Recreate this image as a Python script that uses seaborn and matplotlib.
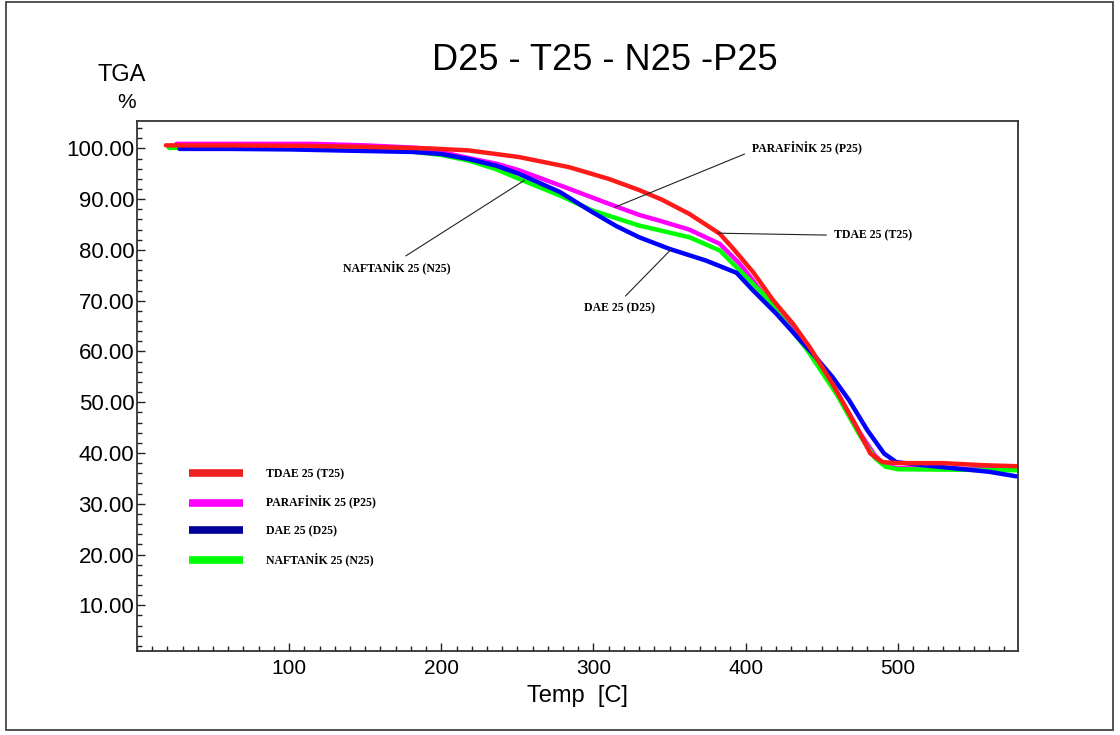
import numpy as np
import pandas as pd
import seaborn as sns
import matplotlib.pyplot as plt
from matplotlib.lines import Line2D
from matplotlib.patches import Rectangle
from matplotlib.ticker import MultipleLocator, FormatStrFormatter

# TGA curves (temperature in C, weight %)
t_tdae = [19, 60, 111, 150, 192, 218, 251, 284, 310, 330, 345, 363, 383, 392, 405,
          418, 431, 442, 457, 473, 482, 490, 501, 530, 556, 578]
w_tdae = [100.6, 100.6, 100.5, 100.3, 100.0, 99.6, 98.3, 96.3, 94.0, 91.8, 89.9, 87.1,
          83.2, 80.2, 75.6, 70.1, 65.5, 60.9, 53.7, 45.1, 39.9, 38.2, 38.0, 38.0, 37.6, 37.4]

t_paraf = [26, 60, 114, 150, 185, 200, 218, 236, 251, 280, 310, 330, 343, 363, 383,
           396, 403, 416, 437, 460, 475, 485, 492, 500, 540, 578]
w_paraf = [100.9, 100.9, 100.9, 100.6, 100.1, 99.3, 98.1, 97.0, 95.7, 92.5, 89.1, 86.9,
           85.8, 84.0, 81.2, 77.3, 74.7, 69.5, 62.2, 52.0, 44.0, 39.5, 37.5, 37.0, 36.9, 36.8]

t_dae = [28, 60, 100, 131, 181, 200, 218, 236, 251, 278, 299, 315, 330, 350, 374, 394,
         405, 420, 435, 444, 457, 468, 480, 491, 499, 523, 560, 578]
w_dae = [99.9, 99.9, 99.8, 99.6, 99.3, 98.9, 97.9, 96.6, 95.0, 91.4, 87.5, 84.7, 82.5,
         80.2, 77.9, 75.5, 72.0, 67.5, 62.5, 59.6, 55.0, 50.4, 44.5, 39.9, 38.2, 37.4, 36.3, 35.4]

t_naft = [21, 60, 100, 150, 180, 200, 218, 236, 251, 278, 299, 330, 343, 363, 383,
          396, 414, 420, 440, 460, 475, 485, 492, 500, 540, 578]
w_naft = [100.1, 100.1, 100.0, 99.8, 99.4, 98.7, 97.6, 95.9, 94.0, 90.7, 87.8, 84.8,
          83.9, 82.5, 79.9, 76.0, 70.5, 68.0, 60.5, 51.5, 43.5, 39.0, 37.3, 36.8, 36.7, 36.6]

labels = ['TDAE 25 (T25)', 'PARAFİNİK 25 (P25)', 'DAE 25 (D25)', 'NAFTANİK 25 (N25)']
line_colors = ['#ff1a1a', '#ff00ff', '#0000ff', '#00ff00']
legend_colors = ['#ee2222', '#ff00ff', '#000099', '#00ff00']

df = pd.concat([
    pd.DataFrame({'temp': t_tdae, 'tga': w_tdae, 'sample': labels[0]}),
    pd.DataFrame({'temp': t_paraf, 'tga': w_paraf, 'sample': labels[1]}),
    pd.DataFrame({'temp': t_dae, 'tga': w_dae, 'sample': labels[2]}),
    pd.DataFrame({'temp': t_naft, 'tga': w_naft, 'sample': labels[3]}),
])

sns.set_theme(style='white')
plt.rcParams['font.family'] = ['Liberation Sans', 'DejaVu Sans']
plt.rcParams['text.color'] = 'black'
plt.rcParams['axes.labelcolor'] = 'black'
plt.rcParams['xtick.color'] = 'black'
plt.rcParams['ytick.color'] = 'black'

fig = plt.figure(figsize=(11.2, 7.35), dpi=100)
ax = fig.add_axes([0.1223, 0.1143, 0.7866, 0.7211])

# draw order: red ends up on top
for name in [labels[1], labels[3], labels[2], labels[0]]:
    sub = df[df['sample'] == name]
    sns.lineplot(data=sub, x='temp', y='tga', ax=ax, color=line_colors[labels.index(name)],
                 lw=3.2, estimator=None, sort=True, legend=False)

ax.set_xlim(0, 579)
ax.set_ylim(1, 105.4)
ax.xaxis.set_major_locator(MultipleLocator(100))
ax.xaxis.set_minor_locator(MultipleLocator(10))
ax.yaxis.set_major_locator(MultipleLocator(10))
ax.yaxis.set_minor_locator(MultipleLocator(2))
ax.yaxis.set_major_formatter(FormatStrFormatter('%.2f'))
ax.set_yticks(np.arange(10, 101, 10))
ax.set_xticks([100, 200, 300, 400, 500])

ax.tick_params(axis='both', which='major', direction='in', length=6, width=1, color='#222')
ax.tick_params(axis='both', which='minor', direction='in', length=3.5, width=1, color='#222')
ax.tick_params(axis='x', which='both', bottom=True, top=False, pad=6, labelsize=15,
               labelcolor='black')
ax.tick_params(axis='y', which='both', left=True, right=False, pad=2, labelsize=16,
               labelcolor='black')
for s in ax.spines.values():
    s.set_color('#333333')
    s.set_linewidth(1.3)

ax.set_xlabel('Temp  [C]', fontsize=17, labelpad=5, color='black')
ax.set_ylabel('')

fig.text(0.540, 0.918, 'D25 - T25 - N25 -P25', ha='center', va='center', fontsize=26,
         color='black')
fig.text(0.109, 0.898, 'TGA', ha='center', va='center', fontsize=17, color='black')
fig.text(0.113, 0.860, '%', ha='center', va='center', fontsize=15, color='black')

# callout labels
afont = dict(family='Liberation Serif', weight='bold', fontsize=8.5, color='black')
aprops = dict(arrowstyle='-', lw=0.8, color='#222', shrinkA=3, shrinkB=0)
ax.annotate(labels[1], xy=(314, 88.4), xytext=(404, 100.0), ha='left', va='center',
            arrowprops=dict(aprops, relpos=(0, 0.3)), **afont)
ax.annotate(labels[0], xy=(381.6, 83.3), xytext=(458, 82.9), ha='left', va='center',
            arrowprops=dict(aprops, relpos=(0, 0.5)), **afont)
ax.annotate(labels[2], xy=(351, 80.1), xytext=(317, 68.5), ha='center', va='center',
            arrowprops=dict(aprops, relpos=(0.5, 1)), **afont)
ax.annotate(labels[3], xy=(254.6, 93.7), xytext=(171, 76.4), ha='center', va='center',
            arrowprops=dict(aprops, relpos=(0.5, 1)), **afont)

handles = [Line2D([0], [0], color=c, lw=5.5, solid_capstyle='butt') for c in legend_colors]
leg = ax.legend(handles, labels, loc='upper left', bbox_to_anchor=(0.059, 0.345),
                frameon=False, borderpad=0, borderaxespad=0, handlelength=4.6,
                handletextpad=1.9, labelspacing=1.35,
                prop=dict(family='Liberation Serif', weight='bold', size=8.5))
for t in leg.get_texts():
    t.set_color('black')

fig.add_artist(Rectangle((0.005, 0.007), 0.989, 0.99, transform=fig.transFigure,
                         fill=False, edgecolor='#444444', lw=1.3))

fig.savefig('out.png', dpi=100, facecolor='white')
